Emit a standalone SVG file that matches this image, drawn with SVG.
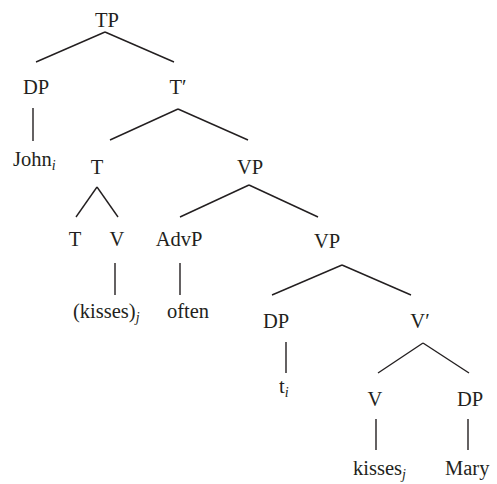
<svg xmlns="http://www.w3.org/2000/svg" width="497" height="484" viewBox="0 0 497 484">
  <style>
    text { font-family: "Liberation Serif", "Times New Roman", serif; font-size: 20.5px; fill: #231f20; }
    .c { text-anchor: middle; }
    .sub { font-size: 14px; font-style: italic; }
    #edges line { stroke: #231f20; stroke-width: 1.4; stroke-linecap: butt; }
  </style>
  <rect width="497" height="484" fill="#ffffff"/>

  <!-- branches of the tree -->
  <g id="edges">
    <line x1="105" y1="32" x2="36" y2="62"/>
    <line x1="105" y1="32" x2="174" y2="62"/>
    <line x1="33" y1="108" x2="33" y2="141"/>
    <line x1="178" y1="109" x2="110" y2="140"/>
    <line x1="178" y1="109" x2="248" y2="140"/>
    <line x1="97" y1="187" x2="76" y2="217"/>
    <line x1="97" y1="187" x2="118" y2="217"/>
    <line x1="249" y1="185" x2="180" y2="217"/>
    <line x1="249" y1="185" x2="318" y2="217"/>
    <line x1="115" y1="263" x2="115" y2="295"/>
    <line x1="180" y1="263" x2="180" y2="295"/>
    <line x1="342" y1="265" x2="272" y2="295"/>
    <line x1="342" y1="265" x2="411" y2="295"/>
    <line x1="286" y1="342" x2="286" y2="373"/>
    <line x1="423" y1="343" x2="378" y2="373"/>
    <line x1="423" y1="343" x2="469" y2="373"/>
    <line x1="376" y1="419" x2="376" y2="450"/>
    <line x1="468" y1="419" x2="468" y2="450"/>
  </g>

  <!-- nodes -->
  <g id="tp"><text class="c" x="107" y="27">TP</text></g>
  <g id="dp-subject"><text class="c" x="36" y="94">DP</text></g>
  <g id="t-bar"><text class="c" x="178" y="94">T′</text></g>
  <g id="john"><text x="13" y="166">John<tspan class="sub" dy="4">i</tspan></text></g>
  <g id="t-head"><text class="c" x="97" y="174">T</text></g>
  <g id="vp-upper"><text class="c" x="250" y="174">VP</text></g>
  <g id="t-low"><text class="c" x="75" y="246">T</text></g>
  <g id="v-low"><text class="c" x="117" y="246">V</text></g>
  <g id="advp"><text class="c" x="179" y="246">AdvP</text></g>
  <g id="vp-lower"><text class="c" x="327" y="248">VP</text></g>
  <g id="kisses-copy"><text x="73" y="318">(kisses)<tspan class="sub" dy="4">j</tspan></text></g>
  <g id="often"><text x="167" y="318">often</text></g>
  <g id="dp-trace"><text class="c" x="276" y="328">DP</text></g>
  <g id="v-bar"><text class="c" x="420" y="328">V′</text></g>
  <g id="trace"><text x="279" y="393">t<tspan class="sub" dy="4">i</tspan></text></g>
  <g id="v-head"><text class="c" x="375" y="406">V</text></g>
  <g id="dp-object"><text class="c" x="470" y="406">DP</text></g>
  <g id="kisses"><text x="353" y="475">kisses<tspan class="sub" dy="4">j</tspan></text></g>
  <g id="mary"><text x="445" y="475">Mary</text></g>
</svg>
